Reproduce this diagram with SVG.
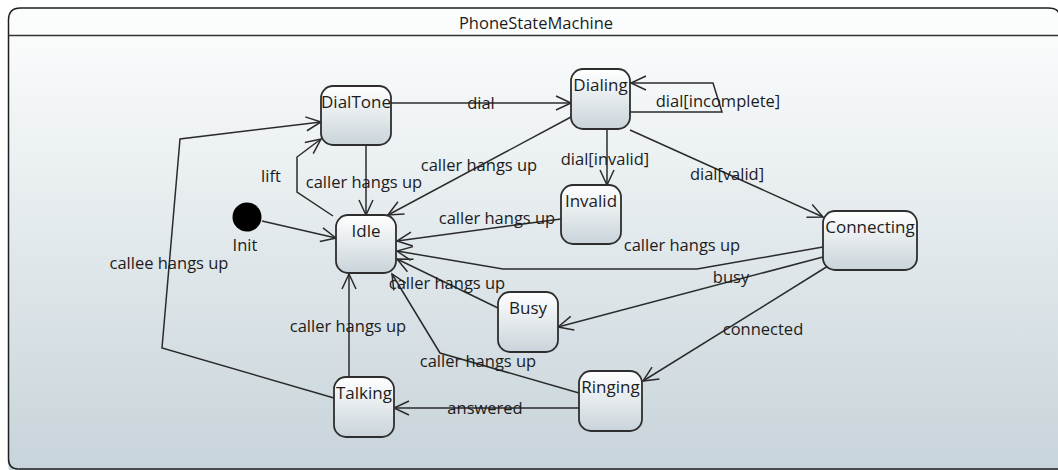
<svg xmlns="http://www.w3.org/2000/svg" width="1058" height="470" viewBox="0 0 1058 470">
<defs>
<linearGradient id="bg" x1="0" y1="0" x2="0" y2="1">
<stop offset="0" stop-color="#fdfefe"/>
<stop offset="1" stop-color="#c6d3d9"/>
</linearGradient>
<linearGradient id="ng" x1="0" y1="0" x2="0" y2="1">
<stop offset="0" stop-color="#ffffff"/>
<stop offset="1" stop-color="#c9d4da"/>
</linearGradient>
<marker id="arr" viewBox="-17 -9 19 18" refX="0" refY="0" markerWidth="19" markerHeight="18" markerUnits="userSpaceOnUse" orient="auto" overflow="visible">
<path d="M-15,-7 L0,0 L-15,7" fill="none" stroke="#2b2b2b" stroke-width="1.5"/>
</marker>
</defs>
<style>
.node{fill:url(#ng);stroke:#2e2e2e;stroke-width:1.8}
.nl{font-family:"Open Sans","Liberation Sans",sans-serif;font-size:17px;fill:#1c1c1c;text-anchor:middle}
.el{font-family:"Open Sans","Liberation Sans",sans-serif;font-size:16.5px;fill:#1c1c1c;text-anchor:middle}
.c{fill:none;stroke:#2b2b2b;stroke-width:1.5;marker-end:url(#arr)}
</style>
<rect x="0" y="0" width="1058" height="470" fill="#ffffff"/>
<g id="frame">
<path d="M8.5,469 L8.5,20 Q8.5,8 20.5,8 L1048,8 Q1060,8 1060,20 L1060,480 L20,480" fill="url(#bg)" stroke="none"/>
<path d="M8.5,36 L8.5,20 Q8.5,8 20.5,8 L1048,8 Q1060,8 1060,20 L1060,36 Z" fill="#fbfcfc"/>
<path d="M18.5,469 Q8.5,469 8.5,459 L8.5,20 Q8.5,8 20.5,8 L1048,8 Q1058,8 1059,14" fill="none" stroke="#1e1e1e" stroke-width="1.5"/>
<path d="M18.5,469 L1060,469" fill="none" stroke="#1e1e1e" stroke-width="1.5"/>
<line x1="8.5" y1="35.5" x2="1058" y2="35.5" stroke="#333" stroke-width="1.5"/>
<text x="536" y="29" class="el" font-size="16">PhoneStateMachine</text>
</g>
<g id="connectors">
<path class="c" d="M262,221 L336,238"/>
<path class="c" d="M333,216 L297,192 L297,157 L321,139"/>
<path class="c" d="M366,145 L366,215"/>
<path class="c" d="M391,103 L571,103"/>
<path class="c" d="M630,112 L722,112 L713,83 L631,83"/>
<path class="c" d="M571,117 L388,215"/>
<path class="c" d="M607,129 L607,185"/>
<path class="c" d="M630,130 L823,217"/>
<path class="c" d="M561,219 L397,241"/>
<path class="c" d="M823,247 L697,269 L503,269 L397,251"/>
<path class="c" d="M823,257 L558,327"/>
<path class="c" d="M828,266 L643,381"/>
<path class="c" d="M498,308 L397,259"/>
<path class="c" d="M579,393 L440,353 L392,274"/>
<path class="c" d="M579,408 L394,408"/>
<path class="c" d="M349,377 L349,274"/>
<path class="c" d="M334,398 L162,348 L180,139 L321,122"/>
<text class="el" x="271" y="182">lift</text>
<text class="el" x="364" y="188">caller hangs up</text>
<text class="el" x="481" y="109">dial</text>
<text class="el" x="718" y="107">dial[incomplete]</text>
<text class="el" x="479" y="171">caller hangs up</text>
<text class="el" x="605" y="165">dial[invalid]</text>
<text class="el" x="727" y="180">dial[valid]</text>
<text class="el" x="497" y="224">caller hangs up</text>
<text class="el" x="682" y="251">caller hangs up</text>
<text class="el" x="731" y="283">busy</text>
<text class="el" x="763" y="335">connected</text>
<text class="el" x="447" y="289">caller hangs up</text>
<text class="el" x="478" y="367">caller hangs up</text>
<text class="el" x="485" y="414">answered</text>
<text class="el" x="348" y="332">caller hangs up</text>
<text class="el" x="169" y="269">callee hangs up</text>
</g>
<g id="Init">
<circle cx="247" cy="217" r="14.5" fill="#000"/>
<text class="el" x="245" y="251">Init</text>
</g>
<g id="DialTone">
<rect class="node" x="321" y="86" width="70" height="59" rx="12"/>
<text class="nl" x="356" y="108">DialTone</text>
</g>
<g id="Idle">
<rect class="node" x="336" y="215" width="60" height="58" rx="12"/>
<text class="nl" x="366" y="237">Idle</text>
</g>
<g id="Dialing">
<rect class="node" x="571" y="69" width="59" height="60" rx="12"/>
<text class="nl" x="600.5" y="91">Dialing</text>
</g>
<g id="Invalid">
<rect class="node" x="561" y="185" width="60" height="59" rx="12"/>
<text class="nl" x="591" y="207">Invalid</text>
</g>
<g id="Connecting">
<rect class="node" x="823" y="211" width="94" height="59" rx="12"/>
<text class="nl" x="870" y="233">Connecting</text>
</g>
<g id="Busy">
<rect class="node" x="498" y="292" width="60" height="60" rx="12"/>
<text class="nl" x="528" y="314">Busy</text>
</g>
<g id="Ringing">
<rect class="node" x="579" y="371" width="63" height="60" rx="12"/>
<text class="nl" x="610.5" y="393">Ringing</text>
</g>
<g id="Talking">
<rect class="node" x="334" y="377" width="60" height="60" rx="12"/>
<text class="nl" x="364" y="399">Talking</text>
</g>
</svg>
